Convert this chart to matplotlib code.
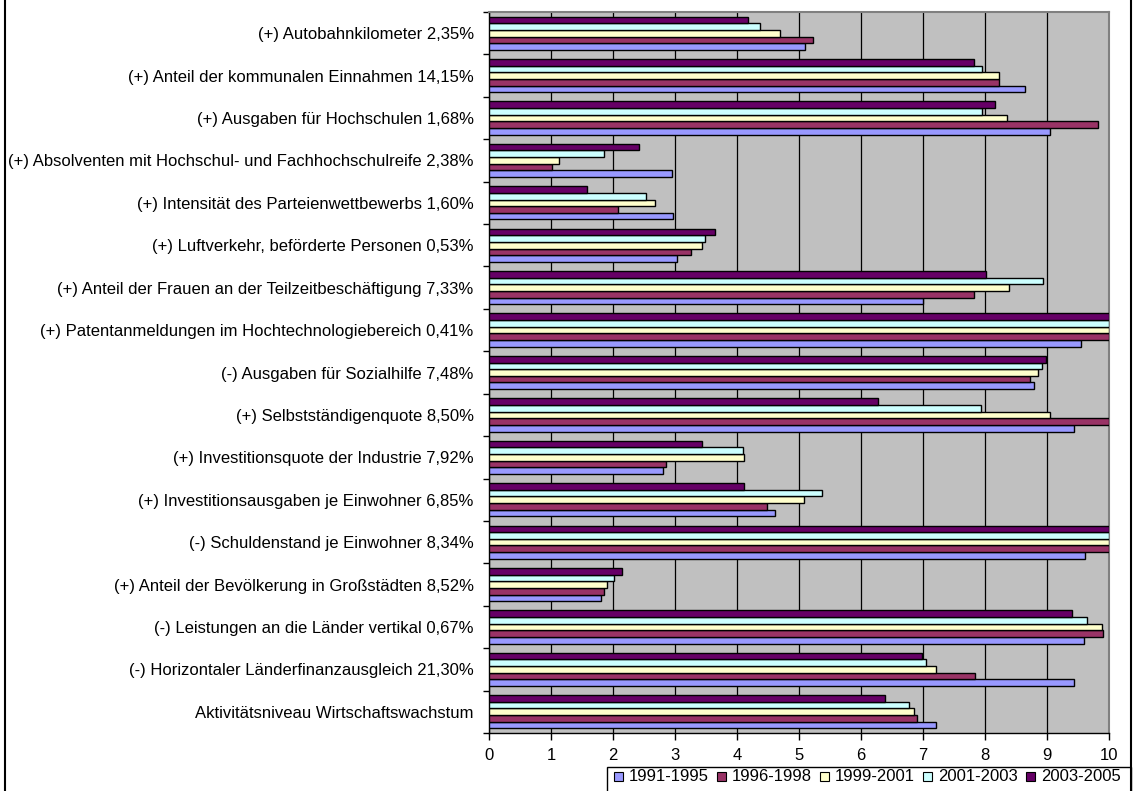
import numpy as np
import matplotlib.pyplot as plt
from matplotlib.patches import Rectangle
from matplotlib.lines import Line2D

plt.rcParams['font.family'] = ['Liberation Sans', 'DejaVu Sans']

# indicator names, top to bottom
categories = [
    "(+) Autobahnkilometer 2,35%",
    "(+) Anteil der kommunalen Einnahmen 14,15%",
    "(+) Ausgaben für Hochschulen 1,68%",
    "(+) Absolventen mit Hochschul- und Fachhochschulreife 2,38%",
    "(+) Intensität des Parteienwettbewerbs 1,60%",
    "(+) Luftverkehr, beförderte Personen 0,53%",
    "(+) Anteil der Frauen an der Teilzeitbeschäftigung 7,33%",
    "(+) Patentanmeldungen im Hochtechnologiebereich 0,41%",
    "(-) Ausgaben für Sozialhilfe 7,48%",
    "(+) Selbstständigenquote 8,50%",
    "(+) Investitionsquote der Industrie 7,92%",
    "(+) Investitionsausgaben je Einwohner 6,85%",
    "(-) Schuldenstand je Einwohner 8,34%",
    "(+) Anteil der Bevölkerung in Großstädten 8,52%",
    "(-) Leistungen an die Länder vertikal 0,67%",
    "(-) Horizontaler Länderfinanzausgleich 21,30%",
    "Aktivitätsniveau Wirtschaftswachstum",
]

periods = ["1991-1995", "1996-1998", "1999-2001", "2001-2003", "2003-2005"]

v_1991_1995 = [5.10, 8.65, 9.05, 2.95, 2.97, 3.04, 7.00, 9.55, 8.79, 9.43,
               2.81, 4.61, 9.62, 1.81, 9.60, 9.44, 7.21]
v_1996_1998 = [5.23, 8.22, 9.82, 1.01, 2.08, 3.26, 7.82, 10.0, 8.73, 10.0,
               2.85, 4.49, 10.0, 1.85, 9.91, 7.84, 6.90]
v_1999_2001 = [4.69, 8.22, 8.35, 1.13, 2.68, 3.43, 8.39, 10.0, 8.85, 9.05,
               4.11, 5.08, 10.0, 1.90, 9.88, 7.21, 6.86]
v_2001_2003 = [4.37, 7.95, 7.95, 1.85, 2.53, 3.49, 8.94, 10.0, 8.92, 7.93,
               4.09, 5.37, 10.0, 2.02, 9.64, 7.05, 6.77]
v_2003_2005 = [4.17, 7.82, 8.16, 2.42, 1.58, 3.65, 8.01, 10.0, 8.98, 6.28,
               3.44, 4.11, 10.0, 2.14, 9.41, 6.98, 6.39]

series = [v_1991_1995, v_1996_1998, v_1999_2001, v_2001_2003, v_2003_2005]
colors = ["#9999FF", "#993366", "#FFFFCC", "#CCFFFF", "#660066"]

W, H = 1135, 791
fig = plt.figure(figsize=(W / 100, H / 100), dpi=100)
ax = fig.add_axes([489 / W, 1 - 733 / H, 620 / W, 721 / H])
ax.set_facecolor("#C0C0C0")

y = np.arange(len(categories))
h = 0.157
for i, (vals, col) in enumerate(zip(series, colors)):
    ax.barh(y + (2 - i) * h, vals, height=h, color=col, edgecolor="black",
            linewidth=1.0, label=periods[i], zorder=3)

ax.set_xlim(0, 10)
ax.set_ylim(len(categories) - 0.5, -0.5)
ax.set_xticks(range(11))
ax.xaxis.grid(True, color="black", linewidth=0.9, zorder=1)

# category labels in the middle, tick marks between the groups
ax.set_yticks(y)
ax.set_yticklabels(categories, fontsize=12)
ax.set_yticks(np.arange(-0.5, len(categories)), minor=True)
ax.tick_params(axis="y", which="major", length=0, pad=11)
ax.tick_params(axis="y", which="minor", length=4, width=1, color="black")
ax.tick_params(axis="x", length=5, width=1, labelsize=12, pad=6)

for side in ["top", "right"]:
    ax.spines[side].set_color("#808080")
    ax.spines[side].set_linewidth(1.5)
for side in ["left", "bottom"]:
    ax.spines[side].set_color("black")
    ax.spines[side].set_linewidth(1.0)

# outer chart border
fig.add_artist(Line2D([5 / W, 5 / W], [0, 1], color="black", lw=1.5))
fig.add_artist(Line2D([1131 / W, 1131 / W], [0, 1], color="black", lw=1.5))

# legend box along the bottom edge
fig.add_artist(Rectangle((607 / W, -0.01), (1131 - 607) / W, 0.01 + 24 / H,
                         transform=fig.transFigure, facecolor="white",
                         edgecolor="black", lw=1.0))
x0 = 614
step = 103
for i, (name, col) in enumerate(zip(periods, colors)):
    xs = x0 + i * step
    fig.add_artist(Rectangle((xs / W, 1 - 781 / H), 9 / W, 9 / H,
                             transform=fig.transFigure, facecolor=col,
                             edgecolor="black", lw=0.8))
    fig.text((xs + 15) / W, 1 - 776.5 / H, name, fontsize=12,
             va="center", ha="left")

fig.savefig("out.png", dpi=100)
